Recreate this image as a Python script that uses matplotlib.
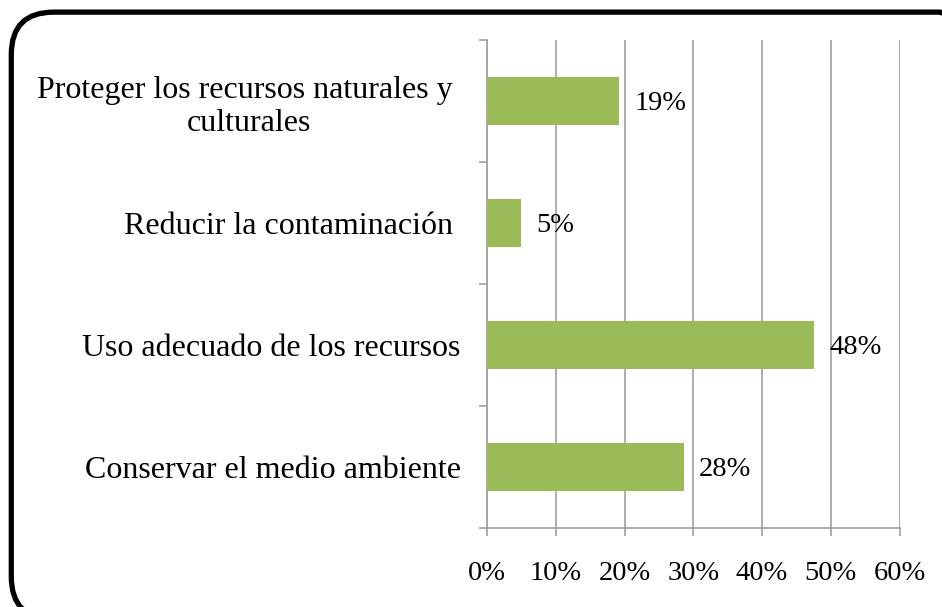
import matplotlib.pyplot as plt
from matplotlib.patches import FancyBboxPatch
from matplotlib.ticker import FixedLocator

# data (bottom to top)
categories = [
    "Conservar el medio ambiente",
    "Uso adecuado de los recursos",
    "Reducir la contaminación ",
    "Proteger los recursos naturales y \nculturales",
]
values = [28.6, 47.6, 4.9, 19.2]
labels = ["28%", "48%", "5%", "19%"]
xticks = [0, 10, 20, 30, 40, 50, 60]

plt.rcParams["font.family"] = ["Liberation Serif", "DejaVu Serif"]

fig = plt.figure(figsize=(9.42, 6.07), dpi=100)
ax = fig.add_axes([0.517, 0.130, 0.438, 0.804])

# rounded border
box = FancyBboxPatch((0.012, -0.02), 1.03, 1.0, boxstyle="round,pad=0,rounding_size=0.045",
                     transform=fig.transFigure, fill=False, edgecolor="black",
                     linewidth=3.8, mutation_aspect=942 / 607)
fig.patches.append(box)

ypos = list(range(len(categories)))
ax.barh(ypos, values, height=0.4, color="#9BBB59", zorder=3)

for y, v, lab in zip(ypos, values, labels):
    ax.annotate(lab, (v, y), xytext=(11, -2), textcoords="offset points",
                va="center", ha="left", fontsize=20.5)

ax.set_xlim(0, 60)
ax.set_ylim(-0.5, 3.5)
ax.set_xticks(xticks)
ax.set_xticklabels([f"{t}%" for t in xticks], fontsize=20.5)
ax.xaxis.grid(True, color="#A0A0A0", linewidth=1.2, zorder=0)

ax.set_yticks(ypos)
ax.set_yticklabels(categories, fontsize=23, multialignment="center")
ax.yaxis.set_minor_locator(FixedLocator([-0.5, 0.5, 1.5, 2.5, 3.5]))
ax.tick_params(axis="y", which="major", length=0, pad=19)
ax.tick_params(axis="y", which="minor", length=6, color="#A0A0A0", width=1.2)
ax.tick_params(axis="x", length=6, color="#A0A0A0", width=1.2, pad=18)

for s in ["top", "right"]:
    ax.spines[s].set_visible(False)
for s in ["left", "bottom"]:
    ax.spines[s].set_color("#A0A0A0")
    ax.spines[s].set_linewidth(1.2)

fig.savefig("out.png", dpi=100)
